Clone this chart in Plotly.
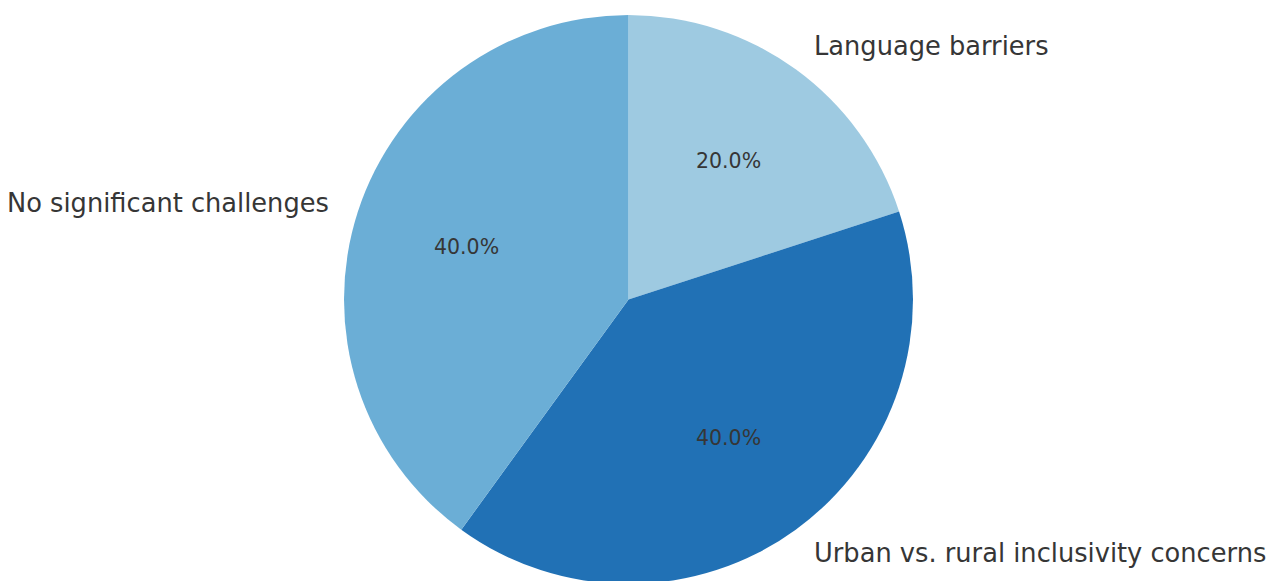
import math
import plotly.graph_objects as go

labels = ["Language barriers", "Urban vs. rural inclusivity concerns", "No significant challenges"]
values = [20, 40, 40]
colors = ["#9ecae1", "#2171b5", "#6baed6"]

W, H = 1267, 592  # figure slightly taller than the 581px window; pie runs off the bottom edge
cx, cy, r = 628.5, 299.5, 284.5  # pie centre/radius in px (from top-left)

fig = go.Figure(go.Pie(
    labels=labels, values=values, sort=False, direction="clockwise", rotation=0,
    marker=dict(colors=colors, line=dict(width=0)),
    textinfo="none", hoverinfo="label+percent", showlegend=False,
    domain=dict(x=[(cx - r) / W, (cx + r) / W], y=[(H - cy - r) / H, (H - cy + r) / H]),
))

annotations = []
total = sum(values)
start = 90.0
for lab, v in zip(labels, values):
    span = 360.0 * v / total
    mid = math.radians(start - span / 2)
    start -= span
    lx = cx + 1.1 * r * math.cos(mid)
    ly = cy - 1.1 * r * math.sin(mid)
    annotations.append(dict(
        x=lx / W, y=1 - ly / H, xref="paper", yref="paper", text=lab, showarrow=False,
        xanchor="left" if math.cos(mid) > 0 else "right", yanchor="middle",
        font=dict(family="DejaVu Sans", size=25.7, color="#363636"),
    ))
    px = cx + 0.6 * r * math.cos(mid)
    py = cy - 0.6 * r * math.sin(mid)
    annotations.append(dict(
        x=px / W, y=1 - py / H, xref="paper", yref="paper",
        text=f"{100 * v / total:.1f}%", showarrow=False,
        xanchor="center", yanchor="middle",
        font=dict(family="DejaVu Sans", size=20.5, color="#363636"),
    ))

fig.update_layout(
    width=W, height=H, margin=dict(l=0, r=0, t=0, b=0),
    paper_bgcolor="white", plot_bgcolor="white",
    annotations=annotations,
)
fig.write_html("out.html", config={"displayModeBar": False},
               post_script="document.body.style.margin='0';document.body.style.overflow='hidden';")
